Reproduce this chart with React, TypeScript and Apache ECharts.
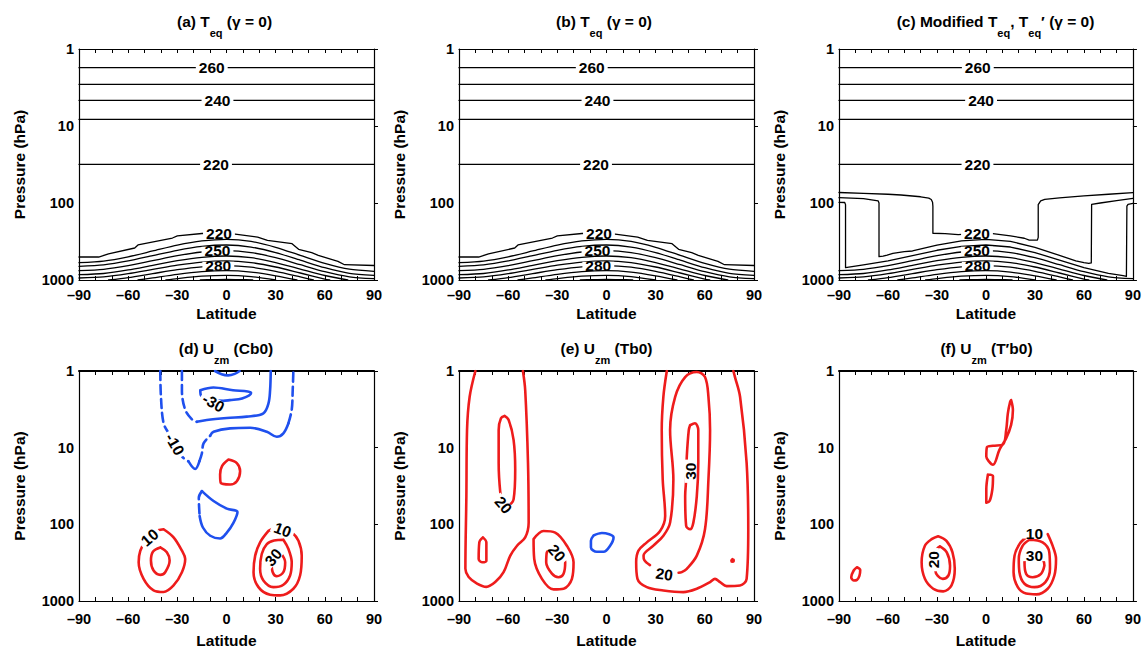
import React, { useEffect, useRef } from 'react';
import * as echarts from 'echarts';

const FONT = '"Liberation Sans", Arial, Helvetica, sans-serif';
const RED = '#ee1c1c';
const BLUE = '#1f50ee';
const BLACK = '#000000';

// ---------- Panel titles ----------
const titleTexts = [
  '{n|(a) T}{s|eq}{n| (γ = 0)}',
  '{n|(b) T}{s|eq}{n| (γ = 0)}',
  '{n|(c) Modified T}{s|eq}{n|, T}{s|eq}{n|′ (γ = 0)}',
  '{n|(d) U}{s|zm}{n| (Cb0)}',
  '{n|(e) U}{s|zm}{n| (Tb0)}',
  '{n|(f) U}{s|zm}{n| (T′b0)}',
];

// ---------- Top row: equilibrium temperature isotherms (lat, hPa) ----------
const upperIsoP = [1.75, 2.88, 4.64, 8.19, 31.5]; // 260, 250, 240, 230, 220 K

const a220 = [[-90,503],[-78,503],[-72,459],[-56,384],[-54,351],[-47,326],[-33,285],[-30,268],[-15,249],[0,242],[3,250],[19,277],[25,305],[40,338],[44,399],[52,442],[56,478],[68,572],[72,633],[90,648]];
const a230 = [[-90,596],[-75,568],[-60,500],[-45,420],[-30,352],[-15,311],[0,296],[15,315],[30,376],[45,478],[60,607],[75,724],[90,771]];
const a240 = [[-90,664],[-75,636],[-60,566],[-45,482],[-30,411],[-15,366],[0,351],[15,373],[30,440],[45,552],[60,692],[75,818],[90,869]];
const a250 = [[-90,757],[-75,728],[-60,652],[-45,561],[-30,483],[-15,433],[0,416],[15,440],[30,513],[45,632],[60,780],[75,909],[90,962]];
const a260 = [[-90,853],[-75,823],[-60,741],[-45,644],[-30,561],[-15,507],[0,488],[15,513],[30,593],[45,720],[60,874],[74,1000]];
const a270 = [[-90,942],[-75,911],[-60,828],[-45,730],[-30,643],[-15,585],[0,566],[15,594],[30,678],[45,811],[60,971],[63,1000]];
const a280 = [[-72,1000],[-60,930],[-45,826],[-30,734],[-15,674],[0,652],[15,682],[30,771],[45,910],[53,1000]];
const a290 = [[-54,1000],[-45,938],[-30,843],[-15,780],[0,757],[15,790],[30,882],[43,1000]];
const a300 = [[-37,1000],[-30,959],[-15,893],[0,869],[15,902],[30,1000]];
const a310 = [[-16,1000],[-8,986],[0,979],[8,986],[16,1000]];

const c220 = [[-90,73.1],[-75,75],[-60,77],[-52,78.7],[-40,83],[-35,86.5],[-33.5,90],[-32.7,98],[-32.5,110],[-32.5,247],[-25,250],[-17,258],[-8,250],[0,246],[3,248],[15,268],[23.5,287],[26.5,303],[31.5,303],[32,280],[32,105],[33.5,94],[36,90],[45,86],[60,81],[75,77],[90,73.5]];
const c230 = [[-90,85.3],[-75,88],[-66,94],[-65.5,100],[-65.5,498],[-63,490],[-60.5,474],[-57,450],[-50,429],[-45,420],[-30,352],[-15,311],[0,296],[15,315],[30,376],[45,478],[55,565],[60,595],[63,607],[64.5,600],[64.7,104],[70,100],[80,93],[90,86.9]];
const c240 = [[-90,97.9],[-86.5,98.5],[-86,105],[-86,692],[-84,682],[-75,636],[-60,566],[-45,482],[-30,411],[-15,366],[0,351],[15,373],[30,440],[45,552],[60,692],[75,818],[84,880],[86,900],[86.3,110],[87,104],[90,101]];

// label: [lat, hPa, text, rotation]
const labelsAB = [[-9,1.75,'260',0],[-5.5,4.64,'240',0],[-6.4,31.5,'220',0],[-4.6,246,'220',0],[-5.5,416,'250',0],[-5,652,'280',0]];
const labelsC = [[-5,1.75,'260',0],[-3,4.64,'240',0],[-5.2,31.5,'220',0],[-5.5,246,'220',0],[-5.5,416,'250',0],[-5,652,'280',0]];

// ---------- (d) Uzm Cb0 ----------
const dB10dashA = [[-40.4,1],[-40,2.17],[-38.4,4.8],[-35.3,6.5],[-31,9.5],[-27.2,13],[-23.2,15.1]];
const dB10solidA = [[-23.2,15.1],[-19.1,19],[-16.5,15]];
const dB10dashB = [[-16.5,15],[-15,11.8],[-14,8.8],[-10,7]];
const dB10solidB = [[-10,7],[-7.9,6.2],[2.2,5.6],[14.4,5.5],[24.6,6.2],[30.7,7.2],[34.7,6.5],[37.8,4.8]];
const dB10dashC = [[37.8,4.8],[39.8,3.2],[40.4,1.78],[40.8,1]];
const dB20dash = [[-27.2,1],[-27.2,1.78],[-25.2,3.2],[-21.1,4.27],[-18.1,4.6]];
const dB20solid = [[-18.1,4.6],[-12,4.35],[0.2,4.1],[12.4,3.94],[22.5,3.56],[25.6,2.65],[26.6,1.78],[27,1]];
const dB30 = [[-16,1.78],[-8,1.64],[4,1.78],[13,1.85],[15,1.93],[9.5,2.28],[2,2.4],[-2,2.45],[-9,2.35],[-15.5,2.1],[-16,1.78]];
const dBtop = [[-7,1],[-3,1.1],[1,1.14],[5,1.09],[8,1]];
const dBlowDash = [[-15,36.9],[-16.9,45],[-16.4,77.8]];
const dBlowSolid = [[-16.4,77.8],[-14.4,110],[-9.9,141],[-3.9,153],[0.2,128],[4.3,94.8],[6.7,69],[0.2,62.5],[-7.9,49.7],[-15,36.9]];
const dRmid = [[1.2,14.3],[6.3,15.9],[8.3,20.3],[6.3,27.4],[2.2,30.2],[-3.5,28.8],[-3.9,22.4],[-2.8,17.5],[1.2,14.3]];
const dRL10 = [[-38.4,116],[-32.3,148],[-27.2,221],[-25.2,283],[-27.2,421],[-32.3,627],[-38.4,764],[-44.5,727],[-50.6,514],[-53.6,313],[-52.6,221],[-49,160],[-44,125],[-38.4,116]];
const dRL20 = [[-40.4,200],[-36.4,232],[-34.7,297],[-37.4,421],[-40.4,456],[-44.5,401],[-46.1,297],[-44.9,227],[-40.4,200]];
const dRR10 = [[25.6,122],[20.5,172],[17.5,256],[16.5,421],[19.5,659],[26.6,828],[32.7,845],[40.8,692],[44.9,465],[45.9,256],[43.9,164],[40,128],[35,112],[30,112],[25.6,122]];
const dRR20 = [[34.7,159],[37.8,210],[39.8,313],[38.8,465],[34.7,614],[28.6,660],[22.5,540],[20.5,381],[21.5,244],[24.6,181],[29,163],[34.7,159]];
const dRR30 = [[33,235],[35.8,313],[34.7,421],[30.7,475],[28.2,421],[27.5,313],[28.5,260],[31,238],[33,235]];
const labelsD = [[-31.5,9,'-10',-60],[-7.9,2.6,'-30',-30],[-46.9,148,'10',40],[34.3,118,'10',-20],[28.6,269,'30',50]];

// ---------- (e) Uzm Tb0 ----------
const eRL10 = [[-80,1],[-83.5,2.17],[-85.1,5.9],[-85.5,42.8],[-86.1,380],[-84.1,487],[-79,594],[-73.3,655],[-67.9,567],[-62.8,421],[-58.7,256],[-54.6,190],[-49.6,148],[-47.5,95],[-47.9,15.8],[-49.6,1.78],[-51,1]];
const eRL20 = [[-62.2,3.86],[-59.7,4.35],[-56.7,7.9],[-55.7,19.3],[-56.7,47.3],[-60,56],[-63.5,52],[-64.8,38.7],[-65.8,15.8],[-65.8,5.87],[-64.4,4.14],[-62.2,3.86]];
const eRLsmall = [[-75.4,148],[-73.3,172],[-73.3,298],[-76,312],[-78,283],[-77.6,172],[-75.4,148]];
const eRM10 = [[-44.5,156],[-38.4,122],[-31.3,128],[-24.2,190],[-20.1,313],[-21.1,514],[-26.2,692],[-32.3,706],[-39.4,514],[-44.1,283],[-44.5,156]];
const eRM20 = [[-34.3,210],[-29,225],[-25.2,313],[-26.2,440],[-29.3,490],[-33.3,440],[-36.8,313],[-36.4,232],[-34.3,210]];
const eB = [[-7.9,140],[-2.8,130],[4.3,148],[2.2,190],[-1.8,228],[-5.9,228],[-9.5,200],[-9.5,164],[-7.9,140]];
const eRR10 = [[36.8,1],[34.7,2.17],[33.7,5.9],[34.3,26],[35.8,77.8],[32.7,122],[24.6,172],[19.5,221],[18.1,313],[18.9,514],[24.6,659],[34.7,728],[46.9,765],[55.1,692],[63.2,567],[66.2,514],[69.3,567],[73.3,639],[81.5,627],[85.5,514],[86.5,116],[85.5,15.8],[81.5,2.17],[78.4,1.2],[77.4,1]];
const eRR20 = [[26.5,340],[23,290],[22.6,256],[28.6,190],[34.7,141],[38.8,95],[40.8,26],[38.8,5.9],[41.9,2.17],[48,1.2],[55.1,1.03],[60.1,1.2],[62.2,2.17],[63.2,5.9],[62.2,26],[60.1,116],[55.1,256],[49,380],[45.9,421],[44,428]];
const eRR30 = [[51,5.1],[54,4.8],[56,5.9],[56,15.8],[55.1,42.8],[53,95],[51,116],[48.6,105],[48,42.8],[48.6,26],[49,13],[50.2,5.9],[51,5.1]];
const eRdot = [[76.8,285],[77.6,290],[77.5,305],[76.6,308],[76.2,296],[76.8,285]];
const labelsE = [[-62.8,56,'20',-50],[-30.3,237,'20',-50],[51,20.3,'30',90],[35.2,447,'20',-8]];

// ---------- (f) Uzm T'b0 ----------
const fRup = [[15.4,2.4],[16.5,3.23],[15.4,5.05],[12.4,7.52],[8.3,10.6],[4.3,16.7],[1.8,15.1],[0.2,13],[0.6,9.84],[4.3,9.45],[10.4,9.08],[12.4,5.87],[13.4,3.57],[14.8,2.52],[15.4,2.4]];
const fRsmall = [[1.2,22.4],[4.3,23.6],[3.9,35.1],[2.2,49.7],[0.2,52.2],[0.2,35.1],[1.2,22.4]];
const fRtiny = [[-79,363],[-77,395],[-77.5,470],[-79,530],[-81,540],[-82.5,490],[-81,400],[-79,363]];
const fRL10 = [[-29.3,143],[-24.2,164],[-20.5,232],[-19.1,381],[-21.1,627],[-26.2,750],[-32.3,692],[-37.4,514],[-39.4,313],[-37.4,190],[-33,155],[-29.3,143]];
const fRL20 = [[-28.2,194],[-24,232],[-22,346],[-23,465],[-26.5,514],[-29.5,470],[-31,400],[-31,260],[-30,210],[-28.2,194]];
const fRR10 = [[24.6,148],[20.5,181],[17.5,256],[16.9,421],[19.5,659],[24.6,800],[30.7,819],[37.8,692],[41.9,465],[42.9,283],[40.8,190],[37.8,134]];
const fRR20 = [[26.6,159],[34.7,172],[38.8,232],[39.2,381],[36.4,567],[29.7,660],[23.6,595],[20.5,421],[20.1,283],[22.5,190],[26.6,159]];
const fRR30 = [[35.8,345],[33.7,443],[28.6,490],[24.6,443],[23.6,313],[24.2,270],[27,250],[32,250],[35,290],[35.8,345]];
const labelsF = [[-32.3,289,'20',90],[29.7,130,'10',0],[29.7,256,'30',0]];

// ---------- Layout ----------
const GRID_LEFTS = [79, 459, 839];
const GRID_TOPS = [49, 371];
const GW = 295;
const GH = 231;
const TITLE_X = [224.5, 604, 995.5, 226, 606.5, 986.5];
const TITLE_Y = [13, 13, 13, 340, 340, 340];

type L = { d: number[][]; c: string; w: number; dash?: boolean; sm?: number };

const topLines = (lower: number[][][]): L[] => [
  ...upperIsoP.map((p) => ({ d: [[-90, p], [90, p]], c: BLACK, w: 1.3 })),
  ...lower.map((d, i) => ({ d, c: BLACK, w: 1.3, sm: i === 0 ? 0 : 0.25 })),
];

const linesAB = topLines([a220, a230, a240, a250, a260, a270, a280, a290, a300, a310]);
const linesC: L[] = [
  ...upperIsoP.map((p) => ({ d: [[-90, p], [90, p]], c: BLACK, w: 1.3 })),
  { d: c220, c: BLACK, w: 1.3 },
  { d: c230, c: BLACK, w: 1.3 },
  { d: c240, c: BLACK, w: 1.3 },
  ...[a250, a260, a270, a280, a290, a300, a310].map((d) => ({ d, c: BLACK, w: 1.3, sm: 0.25 })),
];

const W = 2.6;
const S = 0.35;
const red = (d: number[][]): L => ({ d, c: RED, w: W, sm: S });
const blue = (d: number[][], dash = false): L => ({ d, c: BLUE, w: W, sm: S, dash });

const linesD: L[] = [
  blue(dB10dashA, true), blue(dB10solidA), blue(dB10dashB, true), blue(dB10solidB), blue(dB10dashC, true),
  blue(dB20dash, true), blue(dB20solid), blue(dB30), blue(dBtop), blue(dBlowDash, true), blue(dBlowSolid),
  red(dRmid), red(dRL10), red(dRL20), red(dRR10), red(dRR20), red(dRR30),
];
const linesE: L[] = [red(eRL10), red(eRL20), red(eRLsmall), red(eRM10), red(eRM20), blue(eB), red(eRR10), red(eRR20), red(eRR30), red(eRdot)];
const linesF: L[] = [red(fRup), red(fRsmall), red(fRtiny), red(fRL10), red(fRL20), red(fRR10), red(fRR20), red(fRR30)];

const panels = [
  { lines: linesAB, labels: labelsAB },
  { lines: linesAB, labels: labelsAB },
  { lines: linesC, labels: labelsC },
  { lines: linesD, labels: labelsD },
  { lines: linesE, labels: labelsE },
  { lines: linesF, labels: labelsF },
];

const latFmt = (v: number) => {
  const r = Math.round(v);
  if (r % 30 !== 0) return '';
  return r < 0 ? '–' + Math.abs(r) : String(r);
};

function buildOption() {
  const grid: any[] = [];
  const xAxis: any[] = [];
  const yAxis: any[] = [];
  const series: any[] = [];
  const title: any[] = [];

  panels.forEach((pan, i) => {
    const row = Math.floor(i / 3);
    grid.push({ left: GRID_LEFTS[i % 3], top: GRID_TOPS[row], width: GW, height: GH });
    const axLine = { show: true, onZero: false, lineStyle: { color: BLACK, width: 1.2 } };
    xAxis.push({
      gridIndex: i, type: 'value', min: -90, max: 90, interval: 10, position: 'bottom',
      axisLine: axLine,
      axisTick: { show: true, inside: true, length: 4, lineStyle: { color: BLACK } },
      axisLabel: { formatter: latFmt, interval: 0, color: BLACK, fontFamily: FONT, fontWeight: 'bold', fontSize: 14.5, margin: row === 0 ? 7 : 10, showMinLabel: true, showMaxLabel: true },
      splitLine: { show: false },
      name: 'Latitude', nameLocation: 'middle', nameGap: row === 0 ? 25 : 31,
      nameTextStyle: { color: BLACK, fontFamily: FONT, fontWeight: 'bold', fontSize: 15.5 },
    });
    xAxis.push({
      gridIndex: i, type: 'value', min: -90, max: 90, interval: 10, position: 'top',
      axisLine: { show: true, onZero: false, lineStyle: { color: BLACK, width: row === 0 ? 1.2 : 2 } },
      axisTick: { show: true, inside: true, length: 4, lineStyle: { color: BLACK } },
      axisLabel: { show: false }, splitLine: { show: false },
    });
    yAxis.push({
      gridIndex: i, type: 'log', logBase: 10, min: 1, max: 1000, inverse: true, position: 'left',
      axisLine: axLine, axisTick: { show: false },
      axisLabel: { formatter: (v: number) => String(Math.round(v)), color: BLACK, fontFamily: FONT, fontWeight: 'bold', fontSize: 14.5, margin: 5 },
      splitLine: { show: false }, minorTick: { show: false },
      name: 'Pressure (hPa)', nameLocation: 'middle', nameGap: 52,
      nameTextStyle: { color: BLACK, fontFamily: FONT, fontWeight: 'bold', fontSize: 15.5 },
    });
    yAxis.push({
      gridIndex: i, type: 'log', logBase: 10, min: 1, max: 1000, inverse: true, position: 'right',
      axisLine: axLine, axisTick: { show: true, inside: false, length: 4, lineStyle: { color: BLACK } },
      axisLabel: { show: false }, splitLine: { show: false },
    });

    pan.lines.forEach((ln) => {
      series.push({
        type: 'line', xAxisIndex: i * 2, yAxisIndex: i * 2, data: ln.d,
        symbol: 'none', showSymbol: false, silent: true, clip: true,
        smooth: ln.sm || false, z: 2,
        lineStyle: { color: ln.c, width: ln.w, type: ln.dash ? [9, 5] : 'solid', cap: 'round', join: 'round' },
      });
    });

    series.push({
      type: 'scatter', xAxisIndex: i * 2, yAxisIndex: i * 2, silent: true, z: 10,
      symbolSize: 1, itemStyle: { color: '#ffffff', opacity: 1 },
      data: pan.labels.map((l) => ({ value: [l[0], l[1]], name: l[2], label: { rotate: l[3] } })),
      label: {
        show: true, position: 'inside', formatter: '{b}', color: '#000000', opacity: 1,
        textBorderWidth: 0, textBorderColor: 'transparent',
        fontFamily: FONT, fontWeight: 'bold', fontSize: 15.5,
        backgroundColor: '#ffffff', padding: [0, 3], lineHeight: row === 0 ? 8 : 11,
      },
    });

    title.push({
      text: titleTexts[i], left: TITLE_X[i], top: TITLE_Y[i], textAlign: 'center', padding: 0,
      textStyle: {
        rich: {
          n: { fontFamily: FONT, fontWeight: 'bold', fontSize: 15.5, color: BLACK, lineHeight: 16, verticalAlign: 'top' },
          s: { fontFamily: FONT, fontWeight: 'bold', fontSize: 11, color: BLACK, lineHeight: 25, verticalAlign: 'bottom' },
        },
      },
    });
  });

  return { animation: false, backgroundColor: '#ffffff', title, grid, xAxis, yAxis, series };
}

export default function App() {
  const ref = useRef<HTMLDivElement>(null);
  useEffect(() => {
    if (!ref.current) return;
    const chart = echarts.init(ref.current, null, { renderer: 'svg' });
    chart.setOption(buildOption() as any);
    return () => chart.dispose();
  }, []);
  return (
    <div
      ref={ref}
      style={{ position: 'absolute', left: 0, top: 0, width: 1144, height: 649, background: '#ffffff' }}
    />
  );
}
